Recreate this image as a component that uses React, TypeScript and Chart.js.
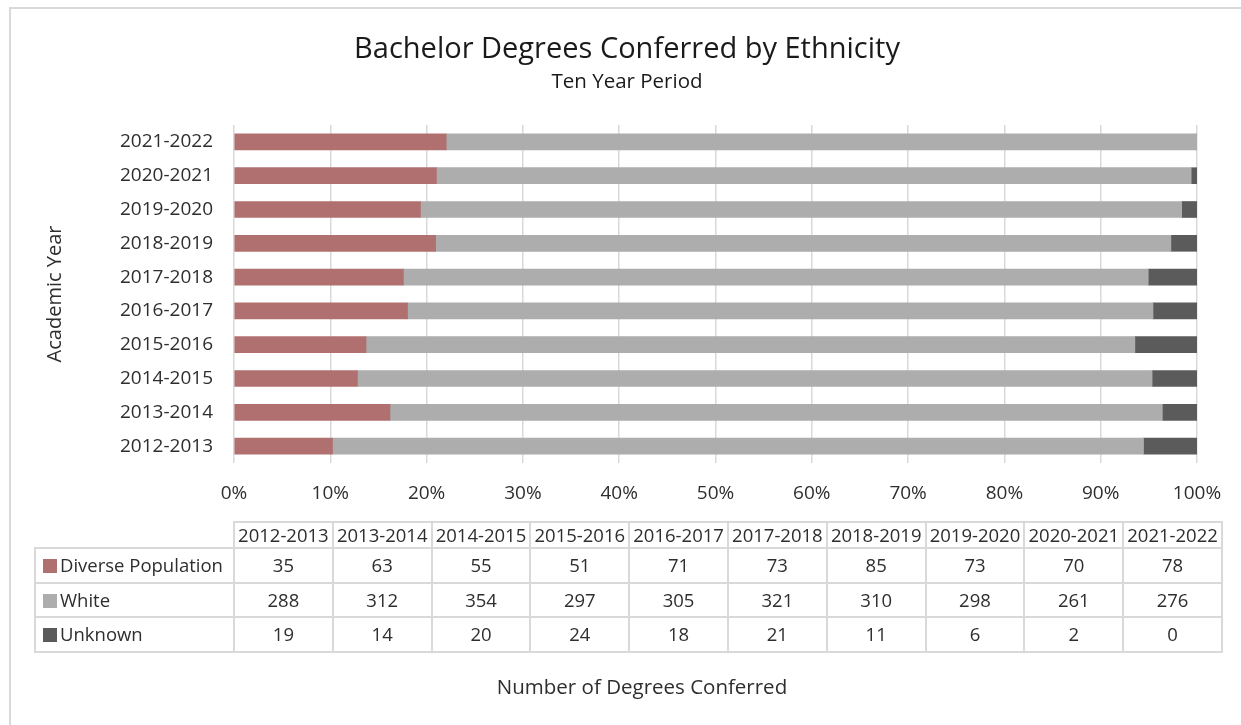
import React, { useEffect, useRef } from 'react';
import { Chart, registerables } from 'chart.js';

Chart.register(...registerables);

const categories = ['2012-2013', '2013-2014', '2014-2015', '2015-2016', '2016-2017', '2017-2018', '2018-2019', '2019-2020', '2020-2021', '2021-2022'];
const diverse = [35, 63, 55, 51, 71, 73, 85, 73, 70, 78];
const white = [288, 312, 354, 297, 305, 321, 310, 298, 261, 276];
const unknown = [19, 14, 20, 24, 18, 21, 11, 6, 2, 0];
const seriesNames = ['Diverse Population', 'White', 'Unknown'];
const seriesColors = ['#B07070', '#ADADAD', '#5B5B5B'];
const titleText = 'Bachelor Degrees Conferred by Ethnicity';
const subtitleText = 'Ten Year Period';
const xTitle = 'Number of Degrees Conferred';
const yTitle = 'Academic Year';

const FONT = "'Open Sans', sans-serif";
const TEXT = '#2e2e2e';
const GRID = '#d9d9d9';

const series = [diverse, white, unknown];

const xTitlePlugin = {
  id: 'xTitleBelowTable',
  afterDraw(chart: any) {
    const ctx = chart.ctx;
    ctx.save();
    ctx.font = `20.5px ${FONT}`;
    ctx.fillStyle = TEXT;
    ctx.textAlign = 'center';
    ctx.textBaseline = 'middle';
    ctx.fillText(xTitle, 642, 688);
    ctx.restore();
  },
};

export default function App() {
  const ref = useRef<HTMLCanvasElement>(null);

  useEffect(() => {
    const totals = categories.map((_, i) => diverse[i] + white[i] + unknown[i]);
    const pct = (arr: number[]) => arr.map((v, i) => (v / totals[i]) * 100);
    const chart = new Chart(ref.current as HTMLCanvasElement, {
      type: 'bar',
      data: {
        labels: categories,
        datasets: series.map((s, k) => ({
          label: seriesNames[k],
          data: pct(s),
          backgroundColor: seriesColors[k],
          borderWidth: 0,
          barThickness: 16,
        })),
      },
      options: {
        indexAxis: 'y',
        animation: false,
        responsive: false,
        maintainAspectRatio: false,
        layout: { padding: { left: 13, right: 0, top: 0, bottom: 0 } },
        plugins: {
          legend: { display: false },
          tooltip: { enabled: false },
          title: {
            display: true,
            text: titleText,
            color: '#1a1a1a',
            font: { family: FONT, size: 29, weight: 'normal', lineHeight: 1.2 },
            padding: { top: 32, bottom: 3 },
          },
          subtitle: {
            display: true,
            text: subtitleText,
            color: '#1a1a1a',
            font: { family: FONT, size: 20.5, weight: 'normal', lineHeight: 1.2 },
            padding: { top: 0, bottom: 30.6 },
          },
        },
        scales: {
          x: {
            stacked: true,
            min: 0,
            max: 100,
            ticks: {
              stepSize: 10,
              callback: (v: any) => v + '%',
              color: TEXT,
              font: { family: FONT, size: 19 },
              padding: 19,
              maxRotation: 0,
            },
            grid: { color: GRID, lineWidth: 1.5, drawTicks: false },
            border: { display: false },
            afterFit: (s: any) => {
              s.height = 725 - 463;
            },
          },
          y: {
            stacked: true,
            reverse: true,
            grid: { display: false, drawTicks: false },
            border: { display: false },
            ticks: { color: TEXT, font: { family: FONT, size: 19 }, padding: 21 },
            title: {
              display: true,
              text: yTitle,
              color: TEXT,
              font: { family: FONT, size: 20, lineHeight: 1.2 },
              padding: { top: 30.5, bottom: 0 },
            },
            afterFit: (s: any) => {
              s.width = 234 - 13;
            },
          },
          yRightSpacer: {
            type: 'linear',
            position: 'right',
            display: true,
            ticks: { display: false },
            grid: { display: false, drawTicks: false },
            border: { display: false },
            afterFit: (s: any) => {
              s.width = 44;
            },
          },
        },
      } as any,
      plugins: [xTitlePlugin],
    });
    return () => chart.destroy();
  }, []);

  const cell: React.CSSProperties = {
    border: `2px solid ${GRID}`,
    padding: 0,
    textAlign: 'center',
    verticalAlign: 'middle',
    whiteSpace: 'nowrap',
    overflow: 'hidden',
  };

  return (
    <div style={{ position: 'absolute', left: 0, top: 0, width: 1241, height: 725, overflow: 'hidden', background: '#fff', fontFamily: FONT, color: TEXT }}>
      <div style={{ position: 'absolute', left: 9, top: 7, width: 1260, height: 760, border: `2px solid ${GRID}`, boxSizing: 'border-box' }} />
      <canvas ref={ref} width={1241} height={725} style={{ position: 'absolute', left: 0, top: 0, display: 'block' }} />
      <table
        style={{
          position: 'absolute',
          left: 34,
          top: 521,
          width: 1187,
          borderCollapse: 'collapse',
          tableLayout: 'fixed',
          fontSize: 18.5,
          fontFamily: FONT,
          color: TEXT,
        }}
      >
        <colgroup>
          <col style={{ width: 199 }} />
          {categories.map((c) => (
            <col key={c} style={{ width: 98.8 }} />
          ))}
        </colgroup>
        <tbody>
          <tr style={{ height: 26 }}>
            <td style={{ border: 'none', padding: 0 }} />
            {categories.map((c) => (
              <td key={c} style={{ ...cell, lineHeight: '22px' }}>{c}</td>
            ))}
          </tr>
          {series.map((s, k) => (
            <tr key={seriesNames[k]} style={{ height: 34.5 }}>
              <td style={{ ...cell, textAlign: 'left', paddingLeft: 7, lineHeight: '26px' }}>
                <span style={{ display: 'inline-block', width: 14, height: 14, background: seriesColors[k], marginRight: 3, verticalAlign: '-1px' }} />
                {seriesNames[k]}
              </td>
              {s.map((v, i) => (
                <td key={i} style={{ ...cell, lineHeight: '26px' }}>{v}</td>
              ))}
            </tr>
          ))}
        </tbody>
      </table>
    </div>
  );
}
